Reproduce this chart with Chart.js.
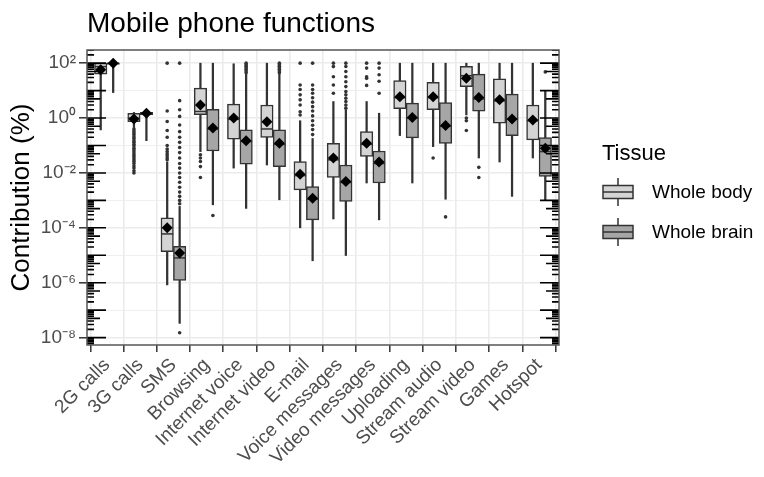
<!DOCTYPE html>
<html>
<head>
<meta charset="utf-8">
<title>Mobile phone functions</title>
<script src="https://cdn.jsdelivr.net/npm/chart.js@4.4.1/dist/chart.umd.min.js"></script>
<style>
  html, body { margin: 0; padding: 0; background: #fff; }
  canvas { display: block; }
</style>
</head>
<body>
<canvas id="chart" width="764" height="477"></canvas>
<script>
const categories = ['2G calls', '3G calls', 'SMS', 'Browsing', 'Internet voice', 'Internet video', 'E-mail',
    'Voice messages', 'Video messages', 'Uploading', 'Stream audio', 'Stream video', 'Games', 'Hotspot'];

// Whole body: whisker ends, quartiles, median and mean (%)
const bodyLow =    [0.37, 0.45, 8.3e-7, 0.06, 0.015, 0.0195, 1.0e-4, 2.1e-4, 4.3e-3, 0.23, 0.091, 1.3, 0.025, 0.035];
const bodyQ1 =     [40, 0.74, 1.35e-5, 1.32, 0.17, 0.195, 2.4e-3, 6.8e-3, 0.04, 2.2, 2.0, 14, 0.65, 0.16];
const bodyMedian = [75, 1.0, 6e-5, 1.74, 0.9, 0.4, 0.008, 0.03, 0.11, 5.5, 5.5, 35, 4.2, 0.8];
const bodyQ3 =     [100, 1.5, 2.3e-4, 12.3, 3.2, 3.0, 0.026, 0.12, 0.32, 23, 20, 76, 27, 3.0];
const bodyHigh =   [100, 1.6, 0.025, 100, 95, 100, 0.8, 4, 4, 100, 100, 100, 100, 100];
const bodyMean =   [57, 0.93, 1e-4, 3.0, 1.0, 0.74, 8.9e-3, 0.035, 0.12, 6.0, 6.0, 28, 4.6, 0.85];

// Whole brain
const brainLow =    [8.5, 0.15, 3.3e-8, 6.9e-4, 5.1e-4, 1.05e-3, 6.3e-6, 9.8e-6, 1.95e-4, 4.3e-3, 1.1e-3, 0.035, 1.4e-3, 1e-3];
const brainQ1 =     [90, 1.3, 1.2e-6, 0.063, 0.021, 0.017, 1.95e-4, 9.1e-4, 4.3e-3, 0.19, 0.12, 1.8, 0.23, 7.4e-3];
const brainMedian = [100, 1.5, 8e-6, 0.4, 0.14, 0.11, 1.1e-3, 4.5e-3, 0.022, 1.0, 0.5, 5.0, 0.9, 0.06];
const brainQ3 =     [100, 1.6, 2.1e-5, 2.1, 0.37, 0.37, 3.2e-3, 0.0195, 0.063, 3.5, 3.7, 40, 7.4, 0.195];
const brainHigh =   [100, 1.7, 6e-4, 100, 40, 40, 0.18, 2.0, 1.5, 100, 100, 100, 100, 10];
const brainMean =   [100, 1.5, 1.2e-5, 0.43, 0.15, 0.12, 1.2e-3, 4.9e-3, 0.025, 1.05, 0.54, 5.6, 0.93, 0.08];

// Outliers per category
const bodyOutliers = [
    [],
    [0.4, 0.34, 0.29, 0.25, 0.21, 0.18, 0.15, 0.13, 0.11, 0.095, 0.08, 0.068, 0.058, 0.049, 0.042, 0.036, 0.03, 0.026, 0.022, 0.018, 0.015, 0.012, 0.01],
    [100, 1.8, 0.75, 0.35, 0.2, 0.1, 0.075, 0.06, 0.05, 0.042, 0.035, 0.03],
    [0.046, 0.035, 0.026, 0.017, 0.0068],
    [],
    [],
    [100, 16, 11, 7, 4.6, 3.0, 1.7, 1.3],
    [100, 75, 32, 16, 8],
    [100, 66, 32, 28, 15.5],
    [],
    [0.035],
    [1.0, 0.8, 0.35],
    [],
    []
];
const brainOutliers = [
    [],
    [],
    [100, 4.3, 2, 1.15, 0.56, 0.32, 0.2, 0.13, 0.085, 0.055, 0.035, 0.022, 0.015, 0.01, 0.0068, 0.0046, 0.003, 0.002, 0.0014, 0.001, 0.00075, 1.5e-8],
    [2.8e-4],
    [45, 52, 60, 68, 78, 88, 100],
    [45, 52, 60, 68, 78, 88, 100],
    [100, 16, 11, 8, 5.5, 3.8, 2.6, 1.8, 1.2, 0.8, 0.55, 0.38, 0.25],
    [100, 76, 50, 32, 21, 14, 9.3, 7, 5.3, 4, 3, 2.3],
    [100, 66, 38, 22, 8],
    [],
    [2.5e-4],
    [0.016, 0.0068],
    [],
    [48]
];

const yGridExponents = [-8, -7, -6, -5, -4, -3, -2, -1, 0, 1, 2];
const yTickLabels = ['10⁻⁸', '', '10⁻⁶', '', '10⁻⁴', '', '10⁻²', '', '10⁰', '', '10²'];

const seriesNames = ['Whole body', 'Whole brain'];
const seriesColors = ['#d4d4d4', '#a6a6a6'];

const FONT = "'Liberation Sans', Arial, Helvetica, sans-serif";
const INK = '#333333';
const DODGE = 0.1875;

Chart.defaults.font.family = FONT;

// helpers turning the arrays into {x, y} points, boxes shifted left/right of the category
const rangeData = (lo, hi, side) => lo.map((v, i) => ({ x: i + side * DODGE, y: [v, hi[i]] }));
const pointData = (vals, side) => vals.map((v, i) => ({ x: i + side * DODGE, y: v }));
const outlierData = (lists, side) => lists.flatMap((vals, i) => vals.map(v => ({ x: i + side * DODGE, y: v })));

const barCommon = {
    type: 'bar',
    grouped: false,
    barPercentage: 1,
    categoryPercentage: 1,
    borderSkipped: false
};

const datasets = [
    // whiskers
    { ...barCommon, data: rangeData(bodyLow, bodyHigh, -1), backgroundColor: INK, maxBarThickness: 1.6, order: 5 },
    { ...barCommon, data: rangeData(brainLow, brainHigh, 1), backgroundColor: INK, maxBarThickness: 1.6, order: 5 },
    // boxes
    { ...barCommon, label: seriesNames[0], data: rangeData(bodyQ1, bodyQ3, -1), backgroundColor: seriesColors[0],
      borderColor: INK, borderWidth: 1.5, maxBarThickness: 12.5, order: 4 },
    { ...barCommon, label: seriesNames[1], data: rangeData(brainQ1, brainQ3, 1), backgroundColor: seriesColors[1],
      borderColor: INK, borderWidth: 1.5, maxBarThickness: 12.5, order: 4 },
    // medians
    { type: 'scatter', data: pointData(bodyMedian, -1), pointStyle: 'line', radius: 6, borderColor: INK, borderWidth: 1.5, order: 3 },
    { type: 'scatter', data: pointData(brainMedian, 1), pointStyle: 'line', radius: 6, borderColor: INK, borderWidth: 1.5, order: 3 },
    // outliers
    { type: 'scatter', data: outlierData(bodyOutliers, -1), radius: 1.8, backgroundColor: INK, borderWidth: 0, order: 3 },
    { type: 'scatter', data: outlierData(brainOutliers, 1), radius: 1.8, backgroundColor: INK, borderWidth: 0, order: 3 },
    // means
    { type: 'scatter', data: pointData(bodyMean, -1), pointStyle: 'rectRot', radius: 5.5, backgroundColor: '#000', borderWidth: 0, order: 1 },
    { type: 'scatter', data: pointData(brainMean, 1), pointStyle: 'rectRot', radius: 5.5, backgroundColor: '#000', borderWidth: 0, order: 1 }
];

// log ticks along both sides of the panel, plus the panel border
const logTicks = {
    id: 'logTicks',
    afterDatasetsDraw(chart) {
        const { ctx, chartArea: a, scales: { y } } = chart;
        ctx.save();
        ctx.beginPath();
        ctx.rect(a.left, a.top, a.right - a.left, a.bottom - a.top);
        ctx.clip();
        ctx.strokeStyle = '#000';
        ctx.lineWidth = 1.6;
        for (let e = -9; e <= 2; e++) {
            for (let k = 1; k <= 9; k++) {
                const py = y.getPixelForValue(k * Math.pow(10, e));
                if (py < a.top - 2 || py > a.bottom + 2) continue;
                const len = k === 1 ? 19 : (k === 5 ? 13 : 7);
                ctx.beginPath();
                ctx.moveTo(a.left, py);
                ctx.lineTo(a.left + len, py);
                ctx.moveTo(a.right - len, py);
                ctx.lineTo(a.right, py);
                ctx.stroke();
            }
        }
        ctx.restore();

        ctx.save();
        ctx.strokeStyle = '#555';
        ctx.lineWidth = 1.5;
        ctx.strokeRect(a.left, a.top, a.right - a.left, a.bottom - a.top);
        ctx.restore();
    }
};

// title and the boxplot-style legend
const decorations = {
    id: 'decorations',
    afterDraw(chart) {
        const { ctx, chartArea: a } = chart;
        ctx.save();
        ctx.fillStyle = '#000';
        ctx.textAlign = 'left';
        ctx.textBaseline = 'alphabetic';
        ctx.font = `28px ${FONT}`;
        ctx.fillText('Mobile phone functions', a.left, 32);

        ctx.font = `22px ${FONT}`;
        ctx.fillText('Tissue', 602, 160);

        seriesNames.forEach((name, i) => {
            const cy = 192 + i * 40;
            const x0 = 603, w = 30, cx = x0 + w / 2;
            ctx.strokeStyle = INK;
            ctx.lineWidth = 1.5;
            ctx.beginPath();
            ctx.moveTo(cx, cy - 14);
            ctx.lineTo(cx, cy + 14);
            ctx.stroke();
            ctx.fillStyle = seriesColors[i];
            ctx.fillRect(x0, cy - 6.5, w, 13);
            ctx.strokeRect(x0, cy - 6.5, w, 13);
            ctx.beginPath();
            ctx.moveTo(x0, cy);
            ctx.lineTo(x0 + w, cy);
            ctx.stroke();

            ctx.fillStyle = '#000';
            ctx.font = `19px ${FONT}`;
            ctx.textBaseline = 'middle';
            ctx.fillText(name, 652, cy + 1);
            ctx.textBaseline = 'alphabetic';
        });
        ctx.restore();
    }
};

new Chart(document.getElementById('chart'), {
    type: 'bar',
    data: { datasets },
    options: {
        responsive: false,
        animation: false,
        devicePixelRatio: 1,
        events: [],
        layout: { padding: { top: 50, right: 205, left: 0, bottom: 0 } },
        plugins: {
            legend: { display: false },
            tooltip: { enabled: false },
            title: { display: false }
        },
        scales: {
            x: {
                type: 'linear',
                min: -0.6,
                max: 13.6,
                offset: false,
                afterBuildTicks: s => { s.ticks = categories.map((c, i) => ({ value: i })); },
                afterFit: s => { s.height = 132; },
                ticks: {
                    autoSkip: false,
                    minRotation: 45,
                    maxRotation: 45,
                    padding: 2,
                    color: '#4d4d4d',
                    font: { size: 19 },
                    callback: v => categories[v]
                },
                grid: { color: '#ebebeb', lineWidth: 1.6, tickColor: INK, tickLength: 7, tickWidth: 1.5 },
                border: { display: false }
            },
            y: {
                type: 'logarithmic',
                min: Math.pow(10, -8.27),
                max: Math.pow(10, 2.48),
                afterBuildTicks: s => { s.ticks = yGridExponents.map(e => ({ value: Math.pow(10, e) })); },
                afterFit: s => { s.width = 87; },
                title: {
                    display: true,
                    text: 'Contribution (%)',
                    color: '#000',
                    font: { size: 26 },
                    padding: { top: 6, bottom: 0 }
                },
                ticks: {
                    autoSkip: false,
                    padding: 3,
                    color: '#4d4d4d',
                    font: { size: 19 },
                    callback: (v, i) => yTickLabels[i]
                },
                grid: {
                    color: '#ebebeb',
                    lineWidth: c => (yGridExponents[c.index] % 2 === 0 ? 1.6 : 0.8),
                    tickColor: c => (yGridExponents[c.index] % 2 === 0 ? INK : 'rgba(0,0,0,0)'),
                    tickLength: 8,
                    tickWidth: 1.5
                },
                border: { display: false }
            }
        }
    },
    plugins: [logTicks, decorations]
});
</script>
</body>
</html>
